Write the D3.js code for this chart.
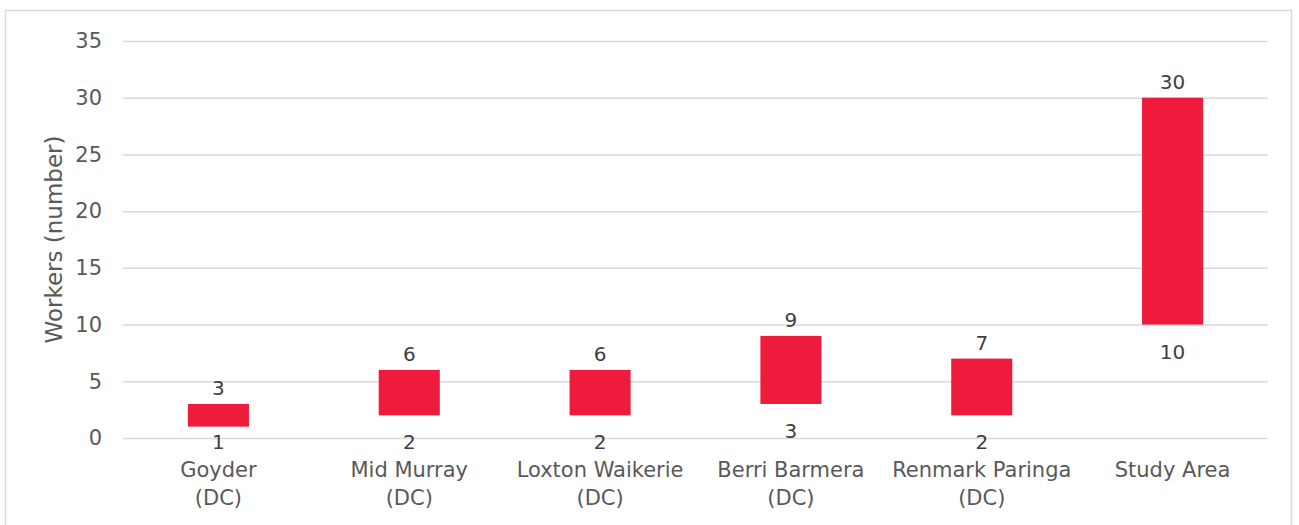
<!DOCTYPE html>
<html><head><meta charset="utf-8">
<script src="https://cdn.jsdelivr.net/npm/d3@7"></script>
<style>
html,body{margin:0;padding:0;background:#fff;}
svg{display:block;}
text{font-family:"DejaVu Sans",Verdana,sans-serif;}
</style></head>
<body>
<svg id="chart" width="1299" height="525"></svg>
<script>
const categories = [["Goyder","(DC)"],["Mid Murray","(DC)"],["Loxton Waikerie","(DC)"],["Berri Barmera","(DC)"],["Renmark Paringa","(DC)"],["Study Area"]];
const lowValues = [1, 2, 2, 3, 2, 10];
const highValues = [3, 6, 6, 9, 7, 30];
const yTicks = [0, 5, 10, 15, 20, 25, 30, 35];
const yTitle = "Workers (number)";

const svg = d3.select("#chart");
const W = 1299, H = 525;
const m = {left:123, right:31, top:41, bottom:87};
const iw = W - m.left - m.right, ih = H - m.top - m.bottom;

svg.append("rect").attr("x",5.5).attr("y",10.5).attr("width",1286).attr("height",520)
  .attr("fill","#fff").attr("stroke","#d9d9d9").attr("stroke-width",1.5);

const g = svg.append("g").attr("transform",`translate(${m.left},${m.top})`);
const idx = categories.map((d,i)=>i);
const x = d3.scaleBand().domain(idx).range([0,iw]).paddingInner(0.68).paddingOuter(0.34);
const y = d3.scaleLinear().domain([0,35]).range([ih,0]);

// gridlines + tick labels
const yAxis = g.append("g").call(d3.axisLeft(y).tickValues(yTicks).tickSize(-iw).tickPadding(21));
yAxis.select(".domain").remove();
yAxis.selectAll(".tick line").attr("stroke","#d9d9d9").attr("stroke-width",1.5);
yAxis.selectAll(".tick text").attr("fill","#595959").style("font-size","21px").attr("font-family","DejaVu Sans");

// floating bars
g.selectAll("rect.bar").data(idx).join("rect").attr("class","bar")
  .attr("x",i=>x(i)).attr("width",x.bandwidth())
  .attr("y",i=>y(highValues[i])).attr("height",i=>y(lowValues[i])-y(highValues[i]))
  .attr("fill","#EE1B3C");

// data labels
g.selectAll("text.hi").data(idx).join("text").attr("class","hi")
  .attr("x",i=>x(i)+x.bandwidth()/2).attr("y",i=>y(highValues[i])-9)
  .attr("text-anchor","middle").attr("fill","#404040").style("font-size","20px")
  .text(i=>highValues[i]);
g.selectAll("text.lo").data(idx).join("text").attr("class","lo")
  .attr("x",i=>x(i)+x.bandwidth()/2).attr("y",i=>Math.min(y(lowValues[i])+34, ih+11))
  .attr("text-anchor","middle").attr("fill","#404040").style("font-size","20px")
  .text(i=>lowValues[i]);

// category labels
const xl = g.selectAll("text.cat").data(idx).join("text").attr("class","cat")
  .attr("x",i=>x(i)+x.bandwidth()/2).attr("y",ih+39)
  .attr("text-anchor","middle").attr("fill","#595959").style("font-size","21px");
xl.each(function(i){
  const t = d3.select(this);
  categories[i].forEach((s,k)=>{
    t.append("tspan").attr("x",x(i)+x.bandwidth()/2).attr("dy",k===0?0:28).text(s);
  });
});

// y title
svg.append("text").attr("transform",`translate(62,${m.top+ih/2}) rotate(-90)`)
  .attr("text-anchor","middle").attr("fill","#595959").style("font-size","23px").text(yTitle);
</script>
</body></html>
